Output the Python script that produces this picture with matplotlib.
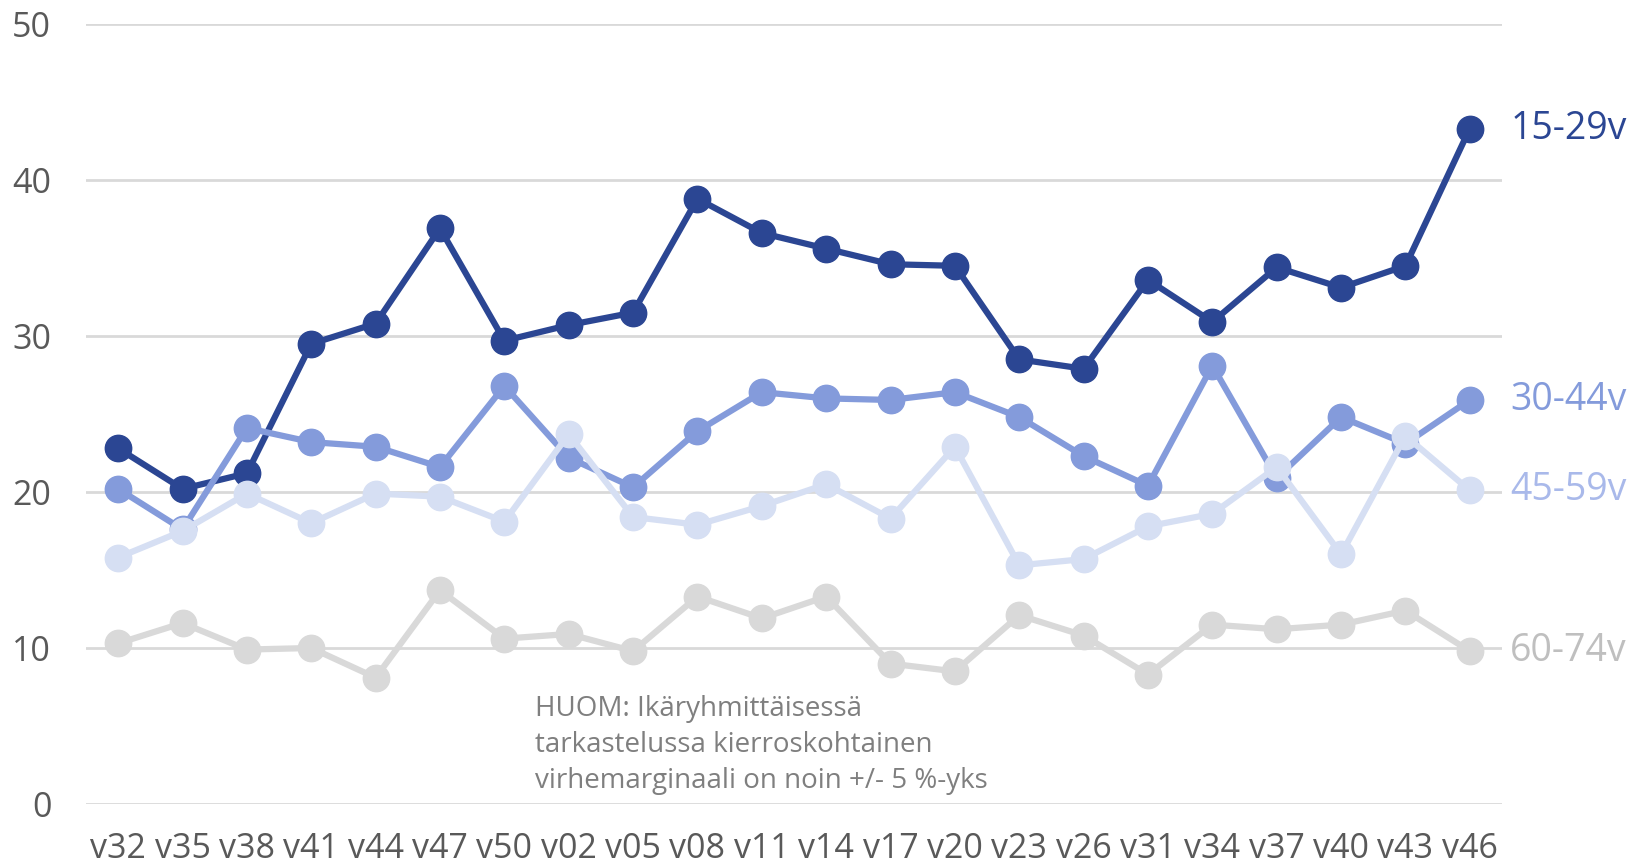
import matplotlib.pyplot as plt
import numpy as np

plt.rcParams["font.family"] = ["Open Sans", "DejaVu Sans"]

weeks = ["v32", "v35", "v38", "v41", "v44", "v47", "v50", "v02", "v05", "v08", "v11",
         "v14", "v17", "v20", "v23", "v26", "v31", "v34", "v37", "v40", "v43", "v46"]

age_15_29 = [22.8, 20.2, 21.2, 29.5, 30.8, 36.9, 29.7, 30.7, 31.5, 38.8, 36.6,
             35.6, 34.6, 34.5, 28.5, 27.9, 33.6, 30.9, 34.4, 33.1, 34.5, 43.3]
age_30_44 = [20.2, 17.6, 24.1, 23.2, 22.9, 21.6, 26.8, 22.2, 20.3, 23.9, 26.4,
             26.0, 25.9, 26.4, 24.8, 22.3, 20.4, 28.1, 20.9, 24.8, 23.1, 25.9]
age_45_59 = [15.8, 17.5, 19.9, 18.0, 19.9, 19.7, 18.1, 23.7, 18.4, 17.9, 19.1,
             20.5, 18.3, 22.9, 15.3, 15.7, 17.8, 18.6, 21.6, 16.0, 23.6, 20.1]
age_60_74 = [10.3, 11.6, 9.9, 10.0, 8.1, 13.7, 10.6, 10.9, 9.8, 13.3, 11.9,
             13.3, 9.0, 8.5, 12.1, 10.8, 8.3, 11.5, 11.2, 11.5, 12.4, 9.8]

series = [
    ("15-29v", age_15_29, "#2B4693", "#2B4693"),
    ("30-44v", age_30_44, "#849BDB", "#849BDB"),
    ("45-59v", age_45_59, "#D6DFF3", "#A9B9EA"),
    ("60-74v", age_60_74, "#D9D9D9", "#BFBFBF"),
]

note = "HUOM: Ikäryhmittäisessä\ntarkastelussa kierroskohtainen\nvirhemarginaali on noin +/- 5 %-yks"

fig = plt.figure(figsize=(16.29, 8.65), dpi=100)
ax = fig.add_axes([86 / 1629, 1 - 804 / 865, (1502 - 86) / 1629, (804 - 24) / 865])

x = np.arange(len(weeks))
for i, (name, vals, color, label_color) in enumerate(series):
    ax.plot(x, vals, color=color, linewidth=4.5, marker="o", markersize=19,
            solid_capstyle="round", zorder=3 + i)
    ax.annotate(name, xy=(x[-1], vals[-1]), xytext=(29, 0), textcoords="offset points",
                va="center", ha="left", fontsize=27, color=label_color,
                annotation_clip=False)

ax.set_xlim(-0.5, len(weeks) - 0.5)
ax.set_ylim(0, 50)
ax.set_yticks(range(0, 51, 10))
ax.set_xticks(x)
ax.set_xticklabels(weeks)
ax.grid(axis="y", color="#D9D9D9", linewidth=2)
ax.set_axisbelow(True)
for s in ax.spines.values():
    s.set_visible(False)
ax.tick_params(axis="both", length=0, labelsize=24.5, colors="#595959")
ax.tick_params(axis="y", pad=25)
ax.tick_params(axis="x", pad=20)

ax.text(535 / 1629, 1 - 695 / 865, note, transform=fig.transFigure, fontsize=20,
        color="#7F7F7F", va="top", ha="left", linespacing=1.38)

fig.savefig("out.png", dpi=100)
